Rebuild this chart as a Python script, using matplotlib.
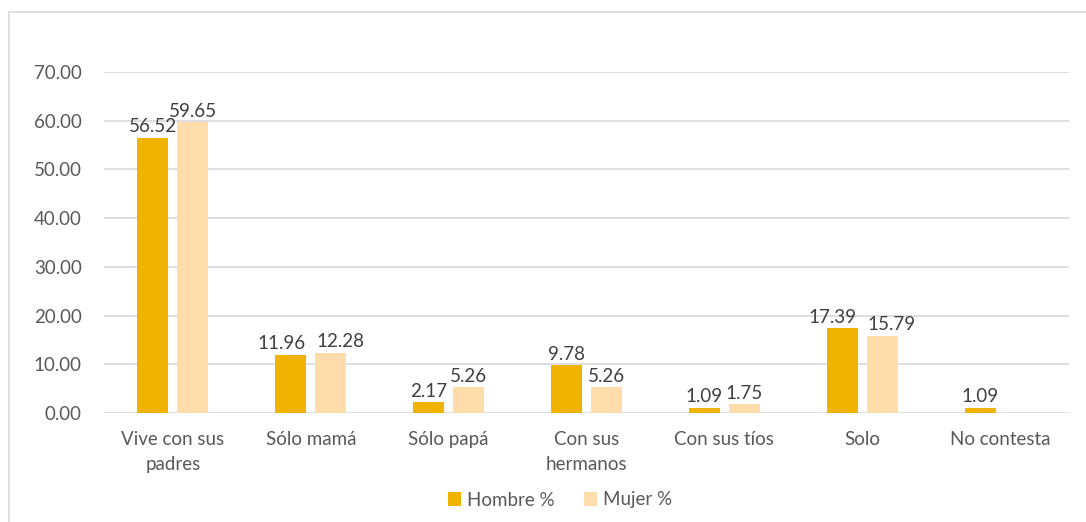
import numpy as np
import matplotlib.pyplot as plt
from matplotlib.patches import Rectangle

categories = ["Vive con sus\npadres", "Sólo mamá", "Sólo papá", "Con sus\nhermanos",
              "Con sus tíos", "Solo", "No contesta"]
hombre = [56.52, 11.96, 2.17, 9.78, 1.09, 17.39, 1.09]
mujer = [59.65, 12.28, 5.26, 5.26, 1.75, 15.79, None]

plt.rcParams['font.family'] = ['Lato', 'DejaVu Sans']
text_color = '#595959'
fs = 13.5

fig = plt.figure(figsize=(10.86, 5.22), dpi=100)
fig.patches.append(Rectangle((9 / 1086, -0.05), 1.1, 0.05 + 1 - 12 / 522,
                             transform=fig.transFigure, fill=False,
                             edgecolor='#D9D9D9', linewidth=1.2))
ax = fig.add_axes([104 / 1086, 1 - 413 / 522, (1069 - 104) / 1086, (413 - 72) / 522])

x = np.arange(len(categories))
w = 0.225
off = 0.145
h_vals = [v if v is not None else 0 for v in hombre]
m_vals = [v if v is not None else 0 for v in mujer]
b1 = ax.bar(x - off, h_vals, w, color='#F0B400', label='Hombre %', zorder=3)
b2 = ax.bar(x + off, m_vals, w, color='#FFDDAA', label='Mujer %', zorder=3)

# push labels apart where the two labels of a group would collide
for i in range(len(categories)):
    h, m = hombre[i], mujer[i]
    shift = 0
    if h is not None and m is not None and abs(h - m) < 3 and max(h, m) >= 10:
        shift = 7
    for b, v, sgn in ((b1[i], h, -1), (b2[i], m, 1)):
        if v is None:
            continue
        ax.annotate(f"{v:.2f}", (b.get_x() + b.get_width() / 2, v),
                    xytext=(sgn * shift, 2), textcoords='offset points',
                    ha='center', va='bottom', fontsize=fs, color='#404040')

ax.set_xlim(-0.5, len(categories) - 0.5)
ax.set_ylim(0, 70)
ax.set_yticks(np.arange(0, 71, 10))
ax.set_yticklabels([f"{t:.2f}" for t in np.arange(0, 71, 10)])
ax.set_xticks(x)
ax.set_xticklabels(categories, linespacing=1.6)
ax.tick_params(axis='both', length=0, labelsize=fs, labelcolor=text_color)
ax.tick_params(axis='y', pad=16)
ax.tick_params(axis='x', pad=13)
ax.grid(axis='y', color='#D9D9D9', linewidth=1.2, zorder=0)
for s in ax.spines.values():
    s.set_visible(False)

leg = fig.legend(loc='center', bbox_to_anchor=(560 / 1086, 1 - 500 / 522), ncol=2,
                 frameon=False, fontsize=fs, handlelength=0.7, handleheight=0.7,
                 columnspacing=1.6, handletextpad=0.3)
for t in leg.get_texts():
    t.set_color(text_color)

fig.savefig('out.png', dpi=100)
